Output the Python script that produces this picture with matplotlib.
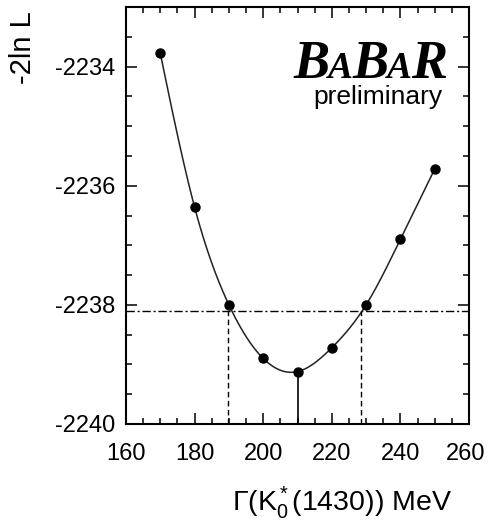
import numpy as np
import matplotlib
matplotlib.use("Agg")
import matplotlib.pyplot as plt
import matplotlib.transforms as mtransforms
from matplotlib.ticker import MultipleLocator

# Scan of the K0*(1430) width versus the likelihood
width = [170, 180, 190, 200, 210, 220, 230, 240, 250]
nll = [-2233.78, -2236.36, -2238.0, -2238.9, -2239.12, -2238.72, -2238.0, -2236.9, -2235.72]
best_width = 210
err_low, err_high = 189.7, 228.5
nll_level = -2238.1

xticks = [160, 180, 200, 220, 240, 260]
yticks = [-2240, -2238, -2236, -2234]


def natural_spline(x, y, xs):
    x = np.asarray(x, float)
    y = np.asarray(y, float)
    n = len(x)
    h = np.diff(x)
    A = np.zeros((n, n))
    b = np.zeros(n)
    A[0, 0] = A[-1, -1] = 1.0
    for i in range(1, n - 1):
        A[i, i - 1] = h[i - 1]
        A[i, i] = 2 * (h[i - 1] + h[i])
        A[i, i + 1] = h[i]
        b[i] = 6 * ((y[i + 1] - y[i]) / h[i] - (y[i] - y[i - 1]) / h[i - 1])
    M = np.linalg.solve(A, b)
    idx = np.clip(np.searchsorted(x, xs) - 1, 0, n - 2)
    x0, x1 = x[idx], x[idx + 1]
    hh = x1 - x0
    t0 = x1 - xs
    t1 = xs - x0
    return (M[idx] * t0**3 / (6 * hh) + M[idx + 1] * t1**3 / (6 * hh)
            + (y[idx] / hh - M[idx] * hh / 6) * t0
            + (y[idx + 1] / hh - M[idx + 1] * hh / 6) * t1)


plt.rcParams['font.family'] = ['Liberation Sans', 'DejaVu Sans']
plt.rcParams['mathtext.fontset'] = 'custom'
plt.rcParams['mathtext.rm'] = 'Liberation Sans'
plt.rcParams['mathtext.it'] = 'Liberation Sans:italic'

fig = plt.figure(figsize=(4.88, 5.29), dpi=100)
ax = fig.add_axes([126 / 488, 1 - 424 / 529, 343 / 488, 417 / 529])

xs = np.linspace(width[0], width[-1], 400)
ax.plot(xs, natural_spline(width, nll, xs), color='#222222', lw=1.1, zorder=2)
ax.plot(width, nll, 'o', color='black', ms=6.5, zorder=3)

ax.axhline(nll_level, color='black', lw=1.0, ls=(0, (6, 2, 1.5, 2)), zorder=1)
ax.plot([err_low, err_low], [-2240, nll_level], color='black', lw=1.0, ls=(0, (4, 2.5)))
ax.plot([err_high, err_high], [-2240, nll_level], color='black', lw=1.0, ls=(0, (4, 2.5)))
ax.plot([best_width, best_width], [-2240, min(nll)], color='black', lw=1.2)

ax.set_xlim(160, 260)
ax.set_ylim(-2240, -2233)
ax.set_xticks(xticks)
ax.set_yticks(yticks)
ax.set_yticklabels([str(v) for v in yticks])
ax.xaxis.set_minor_locator(MultipleLocator(5))
ax.yaxis.set_minor_locator(MultipleLocator(0.5))
ax.tick_params(which='both', direction='in', top=True, right=True, labelsize=17, width=1.1)
ax.tick_params(which='major', length=8)
ax.tick_params(which='minor', length=4)
ax.tick_params(axis='x', which='major', pad=14)
ax.tick_params(axis='y', which='major', pad=8)
for s in ax.spines.values():
    s.set_linewidth(1.5)

# keep the rightmost x tick label inside the canvas
last = ax.get_xticklabels()[-1]
last.set_transform(last.get_transform() + mtransforms.ScaledTranslation(-3 / 100, 0, fig.dpi_scale_trans))

# BaBar logo: large/small caps, bold italic serif
logo_font = dict(family='Liberation Serif', weight='bold', style='italic', color='black')
x_right = 0.932
y_base = 0.830
parts = [("B", 39), ("A", 27), ("B", 39), ("A", 27), ("R", 39)]
fig.canvas.draw()
renderer = fig.canvas.get_renderer()
widths = []
for s, fs in parts:
    t = ax.text(0, 0, s, fontsize=fs, **logo_font)
    bb = t.get_window_extent(renderer)
    widths.append(bb.width / ax.bbox.width * 0.96)
    t.remove()
xpos = x_right - sum(widths)
for (s, fs), w in zip(parts, widths):
    ax.text(xpos, y_base, s, fontsize=fs, transform=ax.transAxes, ha='left', va='baseline', **logo_font)
    xpos += w
ax.text(0.924, 0.767, "preliminary", transform=ax.transAxes, ha='right', va='baseline', fontsize=19)

fig.text(23 / 488, 1 - 48 / 529, "-2ln L", rotation=90, ha='center', va='center', fontsize=21)
fig.text(342 / 488, 1 - 503 / 529, r"$\Gamma$(K$_0^*$(1430)) MeV", ha='center', va='center', fontsize=20.5)

fig.savefig("out.png", dpi=100)
